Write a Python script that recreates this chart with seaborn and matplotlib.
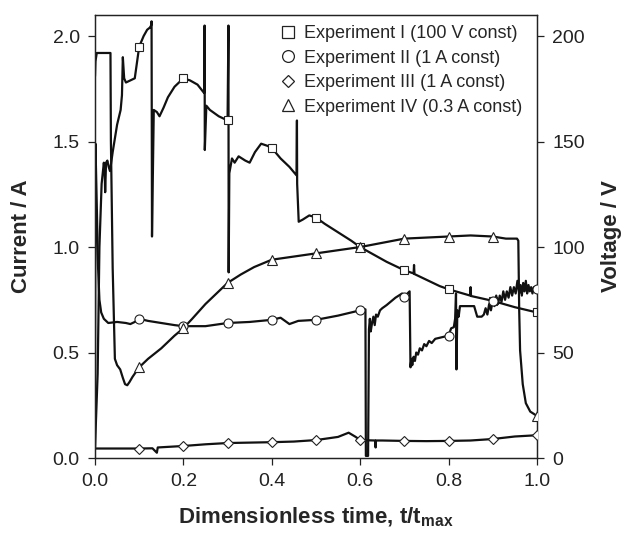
import matplotlib

matplotlib.use("Agg")
import matplotlib.pyplot as plt
import seaborn as sns
from matplotlib.lines import Line2D

# Experiment I: current (A), left axis
exp1_t = [0.000, 0.006, 0.010, 0.015, 0.020, 0.022, 0.023, 0.025, 0.028, 0.031, 0.034,
          0.040, 0.050, 0.058, 0.061, 0.063, 0.066, 0.070, 0.080, 0.090, 0.100, 0.110,
          0.118, 0.124, 0.127, 0.128, 0.129, 0.133, 0.140, 0.146, 0.155, 0.165, 0.180,
          0.200, 0.215, 0.232, 0.247, 0.248, 0.2485, 0.252, 0.260, 0.280, 0.300, 0.302,
          0.3025, 0.304, 0.310, 0.316, 0.325, 0.340, 0.350, 0.362, 0.376, 0.390, 0.400,
          0.420, 0.440, 0.456, 0.457, 0.4575, 0.461, 0.470, 0.485, 0.500, 0.520, 0.550,
          0.580, 0.600, 0.630, 0.660, 0.700, 0.721, 0.722, 0.723, 0.750, 0.780, 0.800,
          0.849, 0.850, 0.851, 0.900, 0.950, 1.000]
exp1_i = [0.05, 0.40, 1.00, 1.30, 1.40, 1.35, 1.26, 1.40, 1.41, 1.38, 1.36,
          1.45, 1.58, 1.65, 1.72, 1.90, 1.80, 1.78, 1.79, 1.80, 1.95, 2.00,
          2.03, 2.04, 2.05, 2.07, 1.05, 1.65, 1.64, 1.62, 1.66, 1.71, 1.76,
          1.80, 1.79, 1.77, 1.73, 2.05, 1.46, 1.67, 1.65, 1.62, 1.60, 2.05,
          0.88, 1.35, 1.42, 1.40, 1.43, 1.41, 1.40, 1.45, 1.49, 1.48, 1.47,
          1.42, 1.38, 1.34, 1.60, 1.30, 1.12, 1.13, 1.15, 1.14, 1.11, 1.07,
          1.03, 1.00, 0.965, 0.93, 0.89, 0.875, 0.915, 0.872, 0.845, 0.815, 0.80,
          0.77, 0.81, 0.768, 0.745, 0.715, 0.69]

# Experiment II: voltage (V), right axis
exp2_t = [0.000, 0.001, 0.004, 0.007, 0.010, 0.014, 0.020, 0.030, 0.050, 0.070, 0.080,
          0.090, 0.100, 0.120, 0.150, 0.180, 0.200, 0.250, 0.300, 0.350, 0.400, 0.420,
          0.440, 0.460, 0.500, 0.550, 0.600, 0.612, 0.613, 0.618, 0.620, 0.622, 0.624,
          0.627, 0.630, 0.633, 0.636, 0.640, 0.645, 0.650, 0.660, 0.680, 0.695, 0.700,
          0.712, 0.714, 0.716, 0.718, 0.721, 0.724, 0.727, 0.731, 0.735, 0.740, 0.745,
          0.750, 0.756, 0.762, 0.770, 0.780, 0.790, 0.800, 0.806, 0.812, 0.815, 0.817,
          0.818, 0.820, 0.823, 0.826, 0.840, 0.858, 0.865, 0.875, 0.880,
          0.884, 0.888, 0.892, 0.896, 0.900, 0.904, 0.908, 0.912, 0.916, 0.920, 0.924,
          0.928, 0.932, 0.936, 0.940, 0.944, 0.948, 0.952, 0.956, 0.960, 0.963, 0.966,
          0.969, 0.972, 0.975, 0.978, 0.981, 0.984, 0.987, 0.990, 0.993, 0.996, 1.000]
exp2_v = [5, 149, 120, 90, 75, 69, 66, 64, 64.5, 64, 63.5,
          64.5, 66, 65, 64, 63, 62.5, 62.5, 64, 64.5, 65.5, 66.5,
          63.5, 65, 65.5, 67.5, 70, 70.5, 1, 1, 61, 66, 60,
          64, 67, 63, 68, 67, 70, 71, 72.5, 76, 78, 76.5,
          79, 43, 47, 44, 48, 46, 50, 49, 52, 51, 54,
          53, 55.5, 54.5, 56.5, 57, 57.5, 58, 61.5, 62, 66, 78,
          42, 70, 67, 72, 72, 72, 67, 67, 68,
          71, 68, 73, 70, 74.5, 72, 77, 73, 77, 74, 79,
          75, 79, 76, 81, 77, 81, 78, 84, 78, 82, 77,
          83, 79, 84, 78, 82, 79, 81, 78, 81, 79, 80]

# Experiment III: voltage (V), right axis
exp3_t = [0.000, 0.050, 0.100, 0.130, 0.140, 0.142, 0.200, 0.250, 0.300, 0.350, 0.400,
          0.450, 0.500, 0.550, 0.574, 0.590, 0.600, 0.634, 0.635, 0.636, 0.650, 0.700,
          0.750, 0.800, 0.850, 0.900, 0.950, 1.000]
exp3_v = [4.5, 4.5, 4.5, 4.6, 2.5, 5.0, 5.7, 6.5, 7.1, 7.3, 7.5,
          7.8, 8.5, 10.0, 12.0, 10.0, 8.5, 8.3, 5.0, 8.3, 8.3, 8.1,
          8.0, 8.1, 8.3, 9.0, 10.2, 10.8]

# Experiment IV: voltage (V), right axis
exp4_t = [0.000, 0.001, 0.004, 0.035, 0.036, 0.040, 0.045, 0.050, 0.057, 0.063, 0.068,
          0.073, 0.078, 0.085, 0.100, 0.120, 0.150, 0.180, 0.200, 0.220, 0.250, 0.280,
          0.300, 0.330, 0.360, 0.400, 0.450, 0.500, 0.550, 0.600, 0.650, 0.700, 0.750,
          0.800, 0.850, 0.900, 0.930, 0.955, 0.958, 0.960, 0.962, 0.968, 0.975, 0.985,
          1.000]
exp4_v = [181, 188, 192, 192, 150, 90, 47, 44, 42, 38, 35,
          34.5, 36, 38.5, 43, 47, 52, 58, 61.5, 66, 73, 79,
          83, 87, 90.5, 94, 95.5, 97, 98.5, 100, 102, 104, 104.5,
          105, 105.5, 105, 104, 104, 103, 70, 51, 35, 26, 22,
          20]

# marker positions
mark_t = [0.1, 0.2, 0.3, 0.4, 0.5, 0.6, 0.7, 0.8, 0.9, 1.0]
mark1 = [1.95, 1.80, 1.60, 1.47, 1.14, 1.00, 0.89, 0.80, 0.745, 0.69]
mark2 = [66, 62.5, 64, 65.5, 65.5, 70, 76.5, 58, 74.5, 80]
mark3 = [4.5, 5.7, 7.1, 7.5, 8.5, 8.5, 8.1, 8.1, 9.0, 10.8]
mark4 = [43, 61.5, 83, 94, 97, 100, 104, 105, 105, 20]

labels = ["Experiment I (100 V const)", "Experiment II (1 A const)",
          "Experiment III (1 A const)", "Experiment IV (0.3 A const)"]
markers = ["s", "o", "D", "^"]

sns.set_style("ticks")
plt.rcParams["font.family"] = ["Liberation Sans", "DejaVu Sans"]
plt.rcParams["mathtext.fontset"] = "custom"
plt.rcParams["mathtext.rm"] = "Liberation Sans"
plt.rcParams["mathtext.bf"] = "Liberation Sans:bold"

fig = plt.figure(figsize=(6.25, 5.36), dpi=100)
ax = fig.add_axes([0.152, 0.1455, 0.707, 0.8265])
ax2 = ax.twinx()

lc = "#111111"
lw = 1.6
sns.lineplot(x=exp1_t, y=exp1_i, sort=False, estimator=None, ax=ax, color=lc, lw=lw)
for t, v in [(exp2_t, exp2_v), (exp3_t, exp3_v), (exp4_t, exp4_v)]:
    sns.lineplot(x=t, y=v, sort=False, estimator=None, ax=ax2, color=lc, lw=lw)

msize = {"s": 6.0, "o": 6.5, "D": 5.0, "^": 7.0}
ax.plot(mark_t, mark1, ls="none", marker="s", ms=msize["s"], mfc="white", mec="#222", mew=0.8, zorder=5)
for m, vals in zip(markers[1:], [mark2, mark3, mark4]):
    ax2.plot(mark_t, vals, ls="none", marker=m, ms=msize[m], mfc="white", mec="#222", mew=0.8, zorder=5)

ax.set_xlim(0, 1.0)
ax.set_ylim(0, 2.1)
ax2.set_ylim(0, 210)
ax.set_xticks([0.0, 0.2, 0.4, 0.6, 0.8, 1.0])
ax.set_xticklabels(["0.0", "0.2", "0.4", "0.6", "0.8", "1.0"])
ax.set_yticks([0.0, 0.5, 1.0, 1.5, 2.0])
ax.set_yticklabels(["0.0", "0.5", "1.0", "1.5", "2.0"])
ax2.set_yticks([0, 50, 100, 150, 200])

for a in (ax, ax2):
    a.tick_params(direction="out", length=5, width=0.9, labelsize=14, pad=6, colors="#222")
    for s in a.spines.values():
        s.set_visible(True)
        s.set_linewidth(0.9)
        s.set_color("#222")

ax.set_xlabel(r"Dimensionless time, t/t$_{\mathbf{max}}$", fontsize=16, fontweight="bold", labelpad=11)
ax.set_ylabel("Current / A", fontsize=16, fontweight="bold", labelpad=15)
ax2.set_ylabel("Voltage / V", fontsize=16, fontweight="bold", labelpad=12)

handles = [Line2D([], [], ls="none", marker=m, ms=ms, mfc="white", mec="#222", mew=0.9)
           for m, ms in zip(markers, [8, 8.5, 6.5, 9])]
ax2.legend(handles, labels, loc="upper right", frameon=False, fontsize=13,
           handlelength=0.8, handletextpad=0.5, labelspacing=0.42,
           borderaxespad=0.4, bbox_to_anchor=(1.0, 1.010))

fig.savefig("out.png", dpi=100)
